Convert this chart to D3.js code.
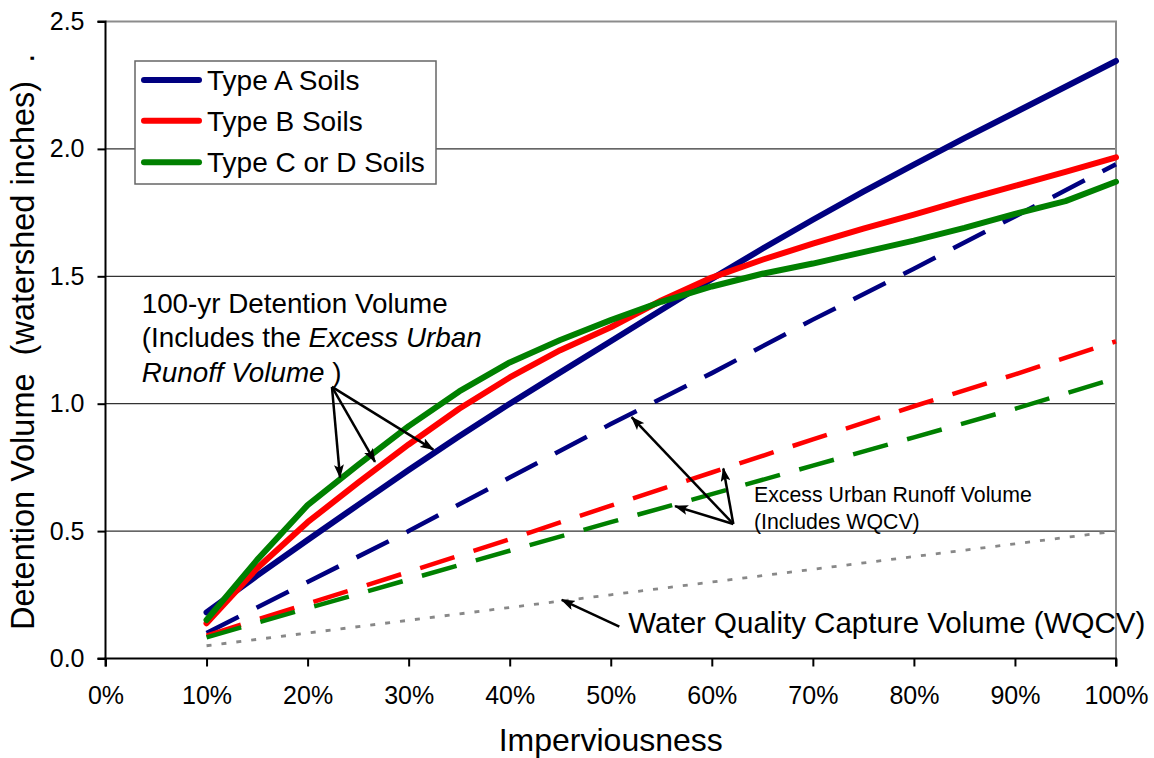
<!DOCTYPE html>
<html>
<head>
<meta charset="utf-8">
<script src="https://cdn.jsdelivr.net/npm/d3@7"></script>
<style>
  html, body { margin: 0; padding: 0; background: #fff; }
  svg { display: block; font-family: "Liberation Sans", Arial, sans-serif; }
</style>
</head>
<body>
<svg id="chart" width="1154" height="758"></svg>
<script>
// ---------------- DATA ----------------
// Imperviousness (%) for the 100-yr detention volume curves
const imperv5 = [10, 15, 20, 25, 30, 35, 40, 45, 50, 55, 60, 65, 70, 75, 80, 85, 90, 95, 100];
const typeA100 = [0.181, 0.325, 0.465, 0.603, 0.74, 0.872, 1.0, 1.123, 1.245, 1.368, 1.49, 1.608, 1.722, 1.832, 1.938, 2.042, 2.143, 2.244, 2.345];
const typeB100 = [0.138, 0.354, 0.535, 0.69, 0.84, 0.98, 1.103, 1.21, 1.30, 1.405, 1.495, 1.565, 1.628, 1.687, 1.742, 1.80, 1.855, 1.91, 1.967];
const typeCD100 = [0.151, 0.387, 0.602, 0.76, 0.912, 1.048, 1.162, 1.25, 1.328, 1.40, 1.46, 1.51, 1.55, 1.595, 1.64, 1.69, 1.745, 1.795, 1.871];

// Imperviousness (%) for the Excess Urban Runoff Volume lines and WQCV
const imperv10 = [10, 20, 30, 40, 50, 60, 70, 80, 90, 100];
const typeAExcess = [0.10, 0.30, 0.50, 0.71, 0.92, 1.12, 1.33, 1.53, 1.735, 1.94];
const typeBExcess = [0.09, 0.215, 0.34, 0.468, 0.60, 0.73, 0.86, 0.99, 1.115, 1.245];
const typeCDExcess = [0.083, 0.197, 0.31, 0.423, 0.535, 0.645, 0.757, 0.868, 0.98, 1.10];
const wqcv = [0.05, 0.10, 0.15, 0.20, 0.25, 0.30, 0.35, 0.40, 0.45, 0.50];

// Axis ticks
const xTicks = [0, 10, 20, 30, 40, 50, 60, 70, 80, 90, 100];
const yTicks = [0.0, 0.5, 1.0, 1.5, 2.0, 2.5];

// Legend
const legendNames = ["Type A Soils", "Type B Soils", "Type C or D Soils"];
const seriesColors = ["#000080", "#ff0000", "#008000"];

// Annotations (in data units: imperviousness %, volume)
const detentionArrowFrom = [22.41, 1.066];
const detentionArrowTips = [[23.21, 0.710], [26.67, 0.772], [32.44, 0.820]];
const excessArrowFrom = [62.13, 0.528];
const excessArrowTips = [[52.07, 0.947], [61.14, 0.746], [56.36, 0.598]];
const wqcvArrowFrom = [50.85, 0.125];
const wqcvArrowTip = [45.15, 0.230];

// ---------------- LAYOUT ----------------
const W = 1154, H = 758;
const margin = { left: 105.5, right: 38, top: 21.5, bottom: 99.5 };
const svg = d3.select("#chart");

const x = d3.scaleLinear().domain([0, 100]).range([margin.left, W - margin.right]);
const y = d3.scaleLinear().domain([0, 2.5]).range([H - margin.bottom, margin.top]);

// gridlines
svg.append("g").selectAll("line")
  .data(yTicks.filter(d => d > 0 && d < 2.5))
  .join("line")
  .attr("x1", x(0)).attr("x2", x(100))
  .attr("y1", d => y(d)).attr("y2", d => y(d))
  .attr("stroke", "#333").attr("stroke-width", 1.2);

// top + right frame (gray)
svg.append("path")
  .attr("d", `M${x(0)},${y(2.5)} H${x(100)} V${y(0)}`)
  .attr("fill", "none").attr("stroke", "#8c8c8c").attr("stroke-width", 2);

// axes
const xAxis = d3.axisBottom(x).tickValues(xTicks).tickFormat(d => d + "%").tickSize(8).tickPadding(20);
const yAxis = d3.axisLeft(y).tickValues(yTicks).tickFormat(d3.format(".1f")).tickSize(8).tickPadding(13);

const gx = svg.append("g").attr("transform", `translate(0,${y(0)})`).call(xAxis);
const gy = svg.append("g").attr("transform", `translate(${x(0)},0)`).call(yAxis);
[gx, gy].forEach(g => {
  g.select(".domain").attr("stroke", "#000").attr("stroke-width", 2);
  g.selectAll(".tick line").attr("stroke", "#000").attr("stroke-width", 2);
  g.selectAll(".tick text").attr("fill", "#000").attr("font-size", 25)
    .attr("font-family", '"Liberation Sans", Arial, sans-serif');
});
gy.select(".domain").attr("d", `M-8,${y(2.5)}H0V${y(0)}H-8`);
gx.select(".domain").attr("d", `M${x(0)},8V0H${x(100)}V8`);

// axis titles
svg.append("text")
  .attr("x", (x(0) + x(100)) / 2).attr("y", 751)
  .attr("text-anchor", "middle").attr("font-size", 32)
  .text("Imperviousness");

svg.append("text")
  .attr("transform", `translate(34,630) rotate(-90)`)
  .attr("text-anchor", "start").attr("font-size", 32.5)
  .attr("xml:space", "preserve").style("white-space", "pre")
  .text("Detention Volume  (watershed inches)  .");

// ---------------- SERIES ----------------
const line = d3.line().x(d => x(d[0])).y(d => y(d[1]));
const zip = (xs, ys) => xs.map((v, i) => [v, ys[i]]);

// WQCV dotted
svg.append("path").datum(zip(imperv10, wqcv))
  .attr("d", line).attr("fill", "none")
  .attr("stroke", "#888").attr("stroke-width", 2.8).attr("stroke-dasharray", "5,10");

// Excess urban runoff dashed
[typeAExcess, typeBExcess, typeCDExcess].forEach((vals, i) => {
  svg.append("path").datum(zip(imperv10, vals))
    .attr("d", line).attr("fill", "none")
    .attr("stroke", seriesColors[i]).attr("stroke-width", 4.5)
    .attr("stroke-dasharray", "36,20");
});

// 100-yr detention solid
const solids = [typeA100, typeB100, typeCD100];
[0, 1, 2].forEach(i => {
  svg.append("path").datum(zip(imperv5, solids[i]))
    .attr("d", line).attr("fill", "none")
    .attr("stroke", seriesColors[i]).attr("stroke-width", 6)
    .attr("stroke-linecap", "round").attr("stroke-linejoin", "round");
});

// ---------------- LEGEND ----------------
const leg = svg.append("g");
leg.append("rect").attr("x", 135).attr("y", 61).attr("width", 301).attr("height", 123)
  .attr("fill", "#fff").attr("stroke", "#666").attr("stroke-width", 1.5);
const legY = [80, 120.7, 162.3];
legendNames.forEach((n, i) => {
  leg.append("line").attr("x1", 144).attr("x2", 199).attr("y1", legY[i]).attr("y2", legY[i])
    .attr("stroke", seriesColors[i]).attr("stroke-width", 6).attr("stroke-linecap", "round");
  leg.append("text").attr("x", 207).attr("y", legY[i]).attr("dy", "0.36em")
    .attr("font-size", 28).text(n);
});

// ---------------- ANNOTATIONS ----------------
const defs = svg.append("defs");
defs.append("marker").attr("id", "arr")
  .attr("markerUnits", "userSpaceOnUse")
  .attr("viewBox", "0 0 14 10").attr("markerWidth", 14).attr("markerHeight", 10)
  .attr("refX", 13).attr("refY", 5).attr("orient", "auto")
  .append("path").attr("d", "M0,0 L14,5 L0,10 L3,5 z").attr("fill", "#000");

function arrow(from, to) {
  svg.append("line")
    .attr("x1", x(from[0])).attr("y1", y(from[1]))
    .attr("x2", x(to[0])).attr("y2", y(to[1]))
    .attr("stroke", "#000").attr("stroke-width", 2.5)
    .attr("marker-end", "url(#arr)");
}
detentionArrowTips.forEach(t => arrow(detentionArrowFrom, t));
excessArrowTips.forEach(t => arrow(excessArrowFrom, t));
arrow(wqcvArrowFrom, wqcvArrowTip);

// 100-yr text block
const t1 = svg.append("text").attr("font-size", 27.8).attr("fill", "#000");
t1.append("tspan").attr("x", 141.7).attr("y", 313.3).text("100-yr Detention Volume");
t1.append("tspan").attr("x", 141.7).attr("y", 347).text("(Includes the ");
t1.append("tspan").attr("font-style", "italic").text("Excess Urban");
t1.append("tspan").attr("x", 141.7).attr("y", 381.7).attr("font-style", "italic").text("Runoff Volume");
t1.append("tspan").attr("xml:space", "preserve").style("white-space", "pre").text(" )");

// Excess text
const t2 = svg.append("text").attr("font-size", 21.3).attr("fill", "#000");
t2.append("tspan").attr("x", 754).attr("y", 501.7).text("Excess Urban Runoff Volume");
t2.append("tspan").attr("x", 754).attr("y", 529.3).text("(Includes WQCV)");

// WQCV text
svg.append("text").attr("x", 628.3).attr("y", 633.3).attr("font-size", 29.5)
  .attr("fill", "#000").text("Water Quality Capture Volume (WQCV)");
</script>
</body>
</html>
